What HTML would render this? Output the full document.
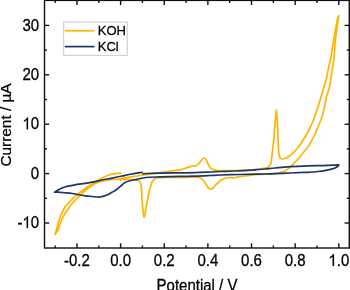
<!DOCTYPE html>
<html><head><meta charset="utf-8"><style>
html,body{margin:0;padding:0;background:#fff;}
svg{display:block;will-change:transform;}
text{font-family:"Liberation Sans",sans-serif;fill:#000;stroke:#000;stroke-width:0.25px;}
</style></head><body>
<svg width="350" height="290" viewBox="0 0 350 290">
<rect width="350" height="290" fill="#fff"/>
<path d="M120.50,180.60C120.62,180.22 120.12,178.82 121.20,178.30C122.28,177.78 125.20,177.78 127.00,177.50C128.80,177.22 130.33,176.85 132.00,176.60C133.67,176.35 135.33,176.23 137.00,176.00C138.67,175.77 140.33,175.47 142.00,175.20C143.67,174.93 144.83,174.73 147.00,174.40C149.17,174.07 152.00,173.60 155.00,173.20C158.00,172.80 162.00,172.40 165.00,172.00C168.00,171.60 170.50,171.17 173.00,170.80C175.50,170.43 178.33,170.10 180.00,169.80C181.67,169.50 181.00,169.60 183.00,169.00C185.00,168.40 189.83,166.73 192.00,166.20C194.17,165.67 194.83,166.25 196.00,165.80C197.17,165.35 198.00,164.53 199.00,163.50C200.00,162.47 201.17,160.52 202.00,159.60C202.83,158.68 203.33,158.02 204.00,158.00C204.67,157.98 205.33,158.50 206.00,159.50C206.67,160.50 207.33,162.70 208.00,164.00C208.67,165.30 209.25,166.40 210.00,167.30C210.75,168.20 211.18,168.87 212.50,169.40C213.82,169.93 215.82,170.30 217.90,170.50C219.98,170.70 222.15,170.60 225.00,170.60C227.85,170.60 231.67,170.58 235.00,170.50C238.33,170.42 241.67,170.27 245.00,170.10C248.33,169.93 251.67,169.82 255.00,169.50C258.33,169.18 262.75,168.65 265.00,168.20C267.25,167.75 267.58,167.42 268.50,166.80C269.42,166.18 270.03,165.47 270.50,164.50C270.97,163.53 271.05,162.58 271.30,161.00C271.55,159.42 271.65,157.95 272.00,155.00C272.35,152.05 273.03,146.63 273.40,143.30C273.77,139.97 273.93,138.18 274.20,135.00C274.47,131.82 274.63,128.33 275.00,124.20C275.37,120.07 276.17,112.53 276.40,110.20C276.58,112.53 277.25,120.07 277.50,124.20C277.75,128.33 277.77,131.37 277.90,135.00C278.03,138.63 278.12,142.75 278.30,146.00C278.48,149.25 278.63,152.47 279.00,154.50C279.37,156.53 279.83,157.45 280.50,158.20C281.17,158.95 282.08,159.03 283.00,159.00C283.92,158.97 285.17,158.33 286.00,158.00C286.83,157.67 286.83,157.83 288.00,157.00C289.17,156.17 291.33,154.58 293.00,153.00C294.67,151.42 296.83,148.83 298.00,147.50C299.17,146.17 298.83,146.75 300.00,145.00C301.17,143.25 303.33,139.83 305.00,137.00C306.67,134.17 308.67,130.67 310.00,128.00C311.33,125.33 312.20,123.00 313.00,121.00C313.80,119.00 313.97,118.33 314.80,116.00C315.63,113.67 316.97,110.17 318.00,107.00C319.03,103.83 320.00,100.33 321.00,97.00C322.00,93.67 323.08,90.17 324.00,87.00C324.92,83.83 325.75,81.17 326.50,78.00C327.25,74.83 327.78,71.33 328.50,68.00C329.22,64.67 329.92,62.78 330.80,58.00C331.68,53.22 332.73,45.58 333.80,39.30C334.87,33.02 336.37,24.25 337.20,20.30C338.03,16.35 338.53,16.38 338.80,15.60C338.68,16.38 338.65,16.35 338.10,20.30C337.55,24.25 336.18,33.02 335.50,39.30C334.82,45.58 334.50,53.22 334.00,58.00C333.50,62.78 333.00,64.67 332.50,68.00C332.00,71.33 331.50,74.83 331.00,78.00C330.50,81.17 330.25,83.83 329.50,87.00C328.75,90.17 327.33,93.67 326.50,97.00C325.67,100.33 325.22,103.83 324.50,107.00C323.78,110.17 322.87,113.67 322.20,116.00C321.53,118.33 321.20,119.17 320.50,121.00C319.80,122.83 319.08,124.50 318.00,127.00C316.92,129.50 315.42,133.08 314.00,136.00C312.58,138.92 310.67,142.50 309.50,144.50C308.33,146.50 308.08,146.58 307.00,148.00C305.92,149.42 304.50,151.17 303.00,153.00C301.50,154.83 299.67,157.12 298.00,159.00C296.33,160.88 294.50,162.80 293.00,164.30C291.50,165.80 290.33,166.88 289.00,168.00C287.67,169.12 286.50,170.23 285.00,171.00C283.50,171.77 281.67,172.17 280.00,172.60C278.33,173.03 276.67,173.35 275.00,173.60C273.33,173.85 272.50,173.97 270.00,174.10C267.50,174.23 263.33,174.20 260.00,174.40C256.67,174.60 252.50,175.03 250.00,175.30C247.50,175.57 246.67,175.80 245.00,176.00C243.33,176.20 241.33,176.30 240.00,176.50C238.67,176.70 238.00,176.97 237.00,177.20C236.00,177.43 235.17,177.85 234.00,177.90C232.83,177.95 231.33,177.48 230.00,177.50C228.67,177.52 227.17,177.70 226.00,178.00C224.83,178.30 223.92,178.88 223.00,179.30C222.08,179.72 221.25,179.97 220.50,180.50C219.75,181.03 219.32,181.75 218.50,182.50C217.68,183.25 216.52,184.08 215.60,185.00C214.68,185.92 213.85,187.30 213.00,188.00C212.15,188.70 211.25,189.20 210.50,189.20C209.75,189.20 209.18,188.70 208.50,188.00C207.82,187.30 207.32,186.33 206.40,185.00C205.48,183.67 204.13,181.22 203.00,180.00C201.87,178.78 200.93,178.18 199.60,177.70C198.27,177.22 197.43,177.17 195.00,177.10C192.57,177.03 190.00,177.23 185.00,177.30C180.00,177.37 169.67,177.38 165.00,177.50C160.33,177.62 158.83,177.70 157.00,178.00C155.17,178.30 154.83,178.63 154.00,179.30C153.17,179.97 152.58,180.72 152.00,182.00C151.42,183.28 150.92,185.67 150.50,187.00C150.08,188.33 150.00,187.83 149.50,190.00C149.00,192.17 148.08,197.00 147.50,200.00C146.92,203.00 146.42,205.67 146.00,208.00C145.58,210.33 145.23,212.62 145.00,214.00C144.77,215.38 144.73,215.83 144.60,216.30C144.47,216.77 144.35,216.85 144.20,216.80C144.05,216.75 143.90,217.13 143.70,216.00C143.50,214.87 143.28,212.67 143.00,210.00C142.72,207.33 142.25,203.33 142.00,200.00C141.75,196.67 141.73,192.75 141.50,190.00C141.27,187.25 141.02,185.00 140.60,183.50C140.18,182.00 139.77,181.58 139.00,181.00C138.23,180.42 137.50,180.25 136.00,180.00C134.50,179.75 132.67,179.65 130.00,179.50C127.33,179.35 123.00,179.10 120.00,179.10C117.00,179.10 114.17,179.30 112.00,179.50C109.83,179.70 108.67,180.02 107.00,180.30C105.33,180.58 103.67,180.78 102.00,181.20C100.33,181.62 98.67,182.08 97.00,182.80C95.33,183.52 93.67,184.47 92.00,185.50C90.33,186.53 88.50,187.82 87.00,189.00C85.50,190.18 84.27,191.43 83.00,192.60C81.73,193.77 80.68,194.77 79.40,196.00C78.12,197.23 76.67,198.58 75.30,200.00C73.93,201.42 72.17,203.33 71.20,204.50C70.23,205.67 70.37,205.75 69.50,207.00C68.63,208.25 67.17,210.17 66.00,212.00C64.83,213.83 63.50,216.00 62.50,218.00C61.50,220.00 60.75,222.00 60.00,224.00C59.25,226.00 58.83,228.25 58.00,230.00C57.17,231.75 55.50,233.75 55.00,234.50C55.33,233.42 56.42,230.08 57.00,228.00C57.58,225.92 57.92,224.00 58.50,222.00C59.08,220.00 59.75,217.83 60.50,216.00C61.25,214.17 62.25,212.50 63.00,211.00C63.75,209.50 64.17,208.23 65.00,207.00C65.83,205.77 66.60,205.10 68.00,203.60C69.40,202.10 71.67,199.70 73.40,198.00C75.13,196.30 76.82,194.70 78.40,193.40C79.98,192.10 81.47,191.22 82.90,190.20C84.33,189.18 85.48,188.33 87.00,187.30C88.52,186.27 90.33,185.08 92.00,184.00C93.67,182.92 95.33,181.80 97.00,180.80C98.67,179.80 100.33,178.83 102.00,178.00C103.67,177.17 105.33,176.43 107.00,175.80C108.67,175.17 110.33,174.58 112.00,174.20C113.67,173.82 115.53,173.68 117.00,173.50C118.47,173.32 120.17,173.17 120.80,173.10" fill="none" stroke="#FFB400" stroke-width="1.7" stroke-linejoin="round" stroke-linecap="round"/>
<path d="M143.00,173.80C143.67,173.75 144.17,173.62 147.00,173.50C149.83,173.38 155.33,173.20 160.00,173.10C164.67,173.00 169.17,172.98 175.00,172.90C180.83,172.82 189.17,172.75 195.00,172.60C200.83,172.45 205.83,172.18 210.00,172.00C214.17,171.82 215.83,171.67 220.00,171.50C224.17,171.33 229.17,171.27 235.00,171.00C240.83,170.73 250.00,170.23 255.00,169.90C260.00,169.57 261.67,169.32 265.00,169.00C268.33,168.68 270.83,168.38 275.00,168.00C279.17,167.62 284.50,167.05 290.00,166.70C295.50,166.35 302.50,166.08 308.00,165.90C313.50,165.72 318.83,165.72 323.00,165.60C327.17,165.48 330.37,165.33 333.00,165.20C335.63,165.07 337.83,164.87 338.80,164.80C338.60,165.08 338.50,165.87 337.60,166.50C336.70,167.13 335.33,167.97 333.40,168.60C331.47,169.23 328.57,169.82 326.00,170.30C323.43,170.78 321.00,171.17 318.00,171.50C315.00,171.83 311.00,172.13 308.00,172.30C305.00,172.47 303.00,172.38 300.00,172.50C297.00,172.62 294.17,172.80 290.00,173.00C285.83,173.20 279.17,173.53 275.00,173.70C270.83,173.87 268.33,173.93 265.00,174.00C261.67,174.07 259.17,174.02 255.00,174.10C250.83,174.18 245.83,174.35 240.00,174.50C234.17,174.65 225.00,174.83 220.00,175.00C215.00,175.17 214.17,175.32 210.00,175.50C205.83,175.68 200.00,175.95 195.00,176.10C190.00,176.25 185.83,176.27 180.00,176.40C174.17,176.53 165.67,176.72 160.00,176.90C154.33,177.08 149.83,177.10 146.00,177.50C142.17,177.90 139.67,178.75 137.00,179.30C134.33,179.85 132.00,180.27 130.00,180.80C128.00,181.33 126.33,181.80 125.00,182.50C123.67,183.20 123.33,183.88 122.00,185.00C120.67,186.12 118.67,187.98 117.00,189.20C115.33,190.42 113.67,191.33 112.00,192.30C110.33,193.27 109.00,194.22 107.00,195.00C105.00,195.78 102.50,196.75 100.00,197.00C97.50,197.25 94.50,196.70 92.00,196.50C89.50,196.30 87.33,196.13 85.00,195.80C82.67,195.47 80.17,194.88 78.00,194.50C75.83,194.12 74.17,193.78 72.00,193.50C69.83,193.22 67.33,193.02 65.00,192.80C62.67,192.58 59.75,192.30 58.00,192.20C56.25,192.10 55.08,192.20 54.50,192.20C55.08,191.83 56.75,190.70 58.00,190.00C59.25,189.30 60.33,188.63 62.00,188.00C63.67,187.37 65.83,186.73 68.00,186.20C70.17,185.67 72.50,185.22 75.00,184.80C77.50,184.38 80.17,184.13 83.00,183.70C85.83,183.27 88.83,182.82 92.00,182.20C95.17,181.58 98.67,180.68 102.00,180.00C105.33,179.32 108.67,178.77 112.00,178.10C115.33,177.43 118.67,176.68 122.00,176.00C125.33,175.32 128.83,174.58 132.00,174.00C135.17,173.42 139.33,172.77 141.00,172.50C142.67,172.23 141.83,172.42 142.00,172.40" fill="none" stroke="#1B3768" stroke-width="1.7" stroke-linejoin="round" stroke-linecap="round"/>
<g stroke="#111" stroke-width="1.4" fill="none">
<rect x="44.5" y="0.4" width="304.80" height="247.60"/>
<line x1="55.14" y1="248.0" x2="55.14" y2="245.5"/><line x1="55.14" y1="0.4" x2="55.14" y2="2.9"/><line x1="76.96" y1="248.0" x2="76.96" y2="243.3"/><line x1="76.96" y1="0.4" x2="76.96" y2="5.1000000000000005"/><line x1="98.78" y1="248.0" x2="98.78" y2="245.5"/><line x1="98.78" y1="0.4" x2="98.78" y2="2.9"/><line x1="120.60" y1="248.0" x2="120.60" y2="243.3"/><line x1="120.60" y1="0.4" x2="120.60" y2="5.1000000000000005"/><line x1="142.42" y1="248.0" x2="142.42" y2="245.5"/><line x1="142.42" y1="0.4" x2="142.42" y2="2.9"/><line x1="164.24" y1="248.0" x2="164.24" y2="243.3"/><line x1="164.24" y1="0.4" x2="164.24" y2="5.1000000000000005"/><line x1="186.06" y1="248.0" x2="186.06" y2="245.5"/><line x1="186.06" y1="0.4" x2="186.06" y2="2.9"/><line x1="207.88" y1="248.0" x2="207.88" y2="243.3"/><line x1="207.88" y1="0.4" x2="207.88" y2="5.1000000000000005"/><line x1="229.70" y1="248.0" x2="229.70" y2="245.5"/><line x1="229.70" y1="0.4" x2="229.70" y2="2.9"/><line x1="251.52" y1="248.0" x2="251.52" y2="243.3"/><line x1="251.52" y1="0.4" x2="251.52" y2="5.1000000000000005"/><line x1="273.34" y1="248.0" x2="273.34" y2="245.5"/><line x1="273.34" y1="0.4" x2="273.34" y2="2.9"/><line x1="295.16" y1="248.0" x2="295.16" y2="243.3"/><line x1="295.16" y1="0.4" x2="295.16" y2="5.1000000000000005"/><line x1="316.98" y1="248.0" x2="316.98" y2="245.5"/><line x1="316.98" y1="0.4" x2="316.98" y2="2.9"/><line x1="338.80" y1="248.0" x2="338.80" y2="243.3"/><line x1="338.80" y1="0.4" x2="338.80" y2="5.1000000000000005"/><line x1="44.5" y1="223.00" x2="49.2" y2="223.00"/><line x1="349.3" y1="223.00" x2="344.6" y2="223.00"/><line x1="44.5" y1="198.30" x2="47.0" y2="198.30"/><line x1="349.3" y1="198.30" x2="346.8" y2="198.30"/><line x1="44.5" y1="173.60" x2="49.2" y2="173.60"/><line x1="349.3" y1="173.60" x2="344.6" y2="173.60"/><line x1="44.5" y1="148.90" x2="47.0" y2="148.90"/><line x1="349.3" y1="148.90" x2="346.8" y2="148.90"/><line x1="44.5" y1="124.20" x2="49.2" y2="124.20"/><line x1="349.3" y1="124.20" x2="344.6" y2="124.20"/><line x1="44.5" y1="99.50" x2="47.0" y2="99.50"/><line x1="349.3" y1="99.50" x2="346.8" y2="99.50"/><line x1="44.5" y1="74.80" x2="49.2" y2="74.80"/><line x1="349.3" y1="74.80" x2="344.6" y2="74.80"/><line x1="44.5" y1="50.10" x2="47.0" y2="50.10"/><line x1="349.3" y1="50.10" x2="346.8" y2="50.10"/><line x1="44.5" y1="25.40" x2="49.2" y2="25.40"/><line x1="349.3" y1="25.40" x2="344.6" y2="25.40"/>
</g>
<g font-size="15">
<text transform="translate(64.04,265.90) scale(1,1.13)">-0.2</text><text transform="translate(110.17,265.90) scale(1,1.13)">0.0</text><text transform="translate(153.81,265.90) scale(1,1.13)">0.2</text><text transform="translate(197.45,265.90) scale(1,1.13)">0.4</text><text transform="translate(241.09,265.90) scale(1,1.13)">0.6</text><text transform="translate(284.73,265.90) scale(1,1.13)">0.8</text><text transform="translate(328.37,265.90) scale(1,1.13)"> .0</text><path transform="translate(328.37,265.90) scale(15,-16.950)" d="M0.373,0L0.285,0L0.285,0.560C0.253,0.530 0.211,0.500 0.160,0.470C0.140,0.458 0.123,0.450 0.109,0.444L0.109,0.530C0.183,0.565 0.247,0.608 0.292,0.655C0.323,0.687 0.343,0.706 0.352,0.716L0.373,0.716Z" stroke="#000" stroke-width="0.25" vector-effect="non-scaling-stroke"/><text transform="translate(17.42,228.10) scale(1,1.13)">- 0</text><path transform="translate(22.42,228.10) scale(15,-16.950)" d="M0.373,0L0.285,0L0.285,0.560C0.253,0.530 0.211,0.500 0.160,0.470C0.140,0.458 0.123,0.450 0.109,0.444L0.109,0.530C0.183,0.565 0.247,0.608 0.292,0.655C0.323,0.687 0.343,0.706 0.352,0.716L0.373,0.716Z" stroke="#000" stroke-width="0.25" vector-effect="non-scaling-stroke"/><text transform="translate(30.76,178.70) scale(1,1.13)">0</text><text transform="translate(22.42,129.30) scale(1,1.13)"> 0</text><path transform="translate(22.42,129.30) scale(15,-16.950)" d="M0.373,0L0.285,0L0.285,0.560C0.253,0.530 0.211,0.500 0.160,0.470C0.140,0.458 0.123,0.450 0.109,0.444L0.109,0.530C0.183,0.565 0.247,0.608 0.292,0.655C0.323,0.687 0.343,0.706 0.352,0.716L0.373,0.716Z" stroke="#000" stroke-width="0.25" vector-effect="non-scaling-stroke"/><text transform="translate(22.42,79.90) scale(1,1.13)">20</text><text transform="translate(22.42,30.50) scale(1,1.13)">30</text>
<text transform="translate(197,291) scale(1,1.13)" text-anchor="middle">Potential / V</text>
<text transform="translate(11,125) rotate(-90) scale(1.025,1)" text-anchor="middle">Current / µA</text>
</g>
<rect x="63.7" y="22.1" width="63.5" height="33.2" fill="#fff" stroke="#c8c8c8" stroke-width="1"/>
<line x1="64.8" y1="30.75" x2="94.5" y2="30.75" stroke="#FFB400" stroke-width="1.7"/>
<line x1="64.8" y1="46.6" x2="94.5" y2="46.6" stroke="#1B3768" stroke-width="1.7"/>
<g font-size="13">
<text transform="translate(97.8,35.1) scale(1,1.04)">KOH</text>
<text transform="translate(97.8,51.3) scale(1,1.04)">KCl</text>
</g>
</svg>
</body></html>
